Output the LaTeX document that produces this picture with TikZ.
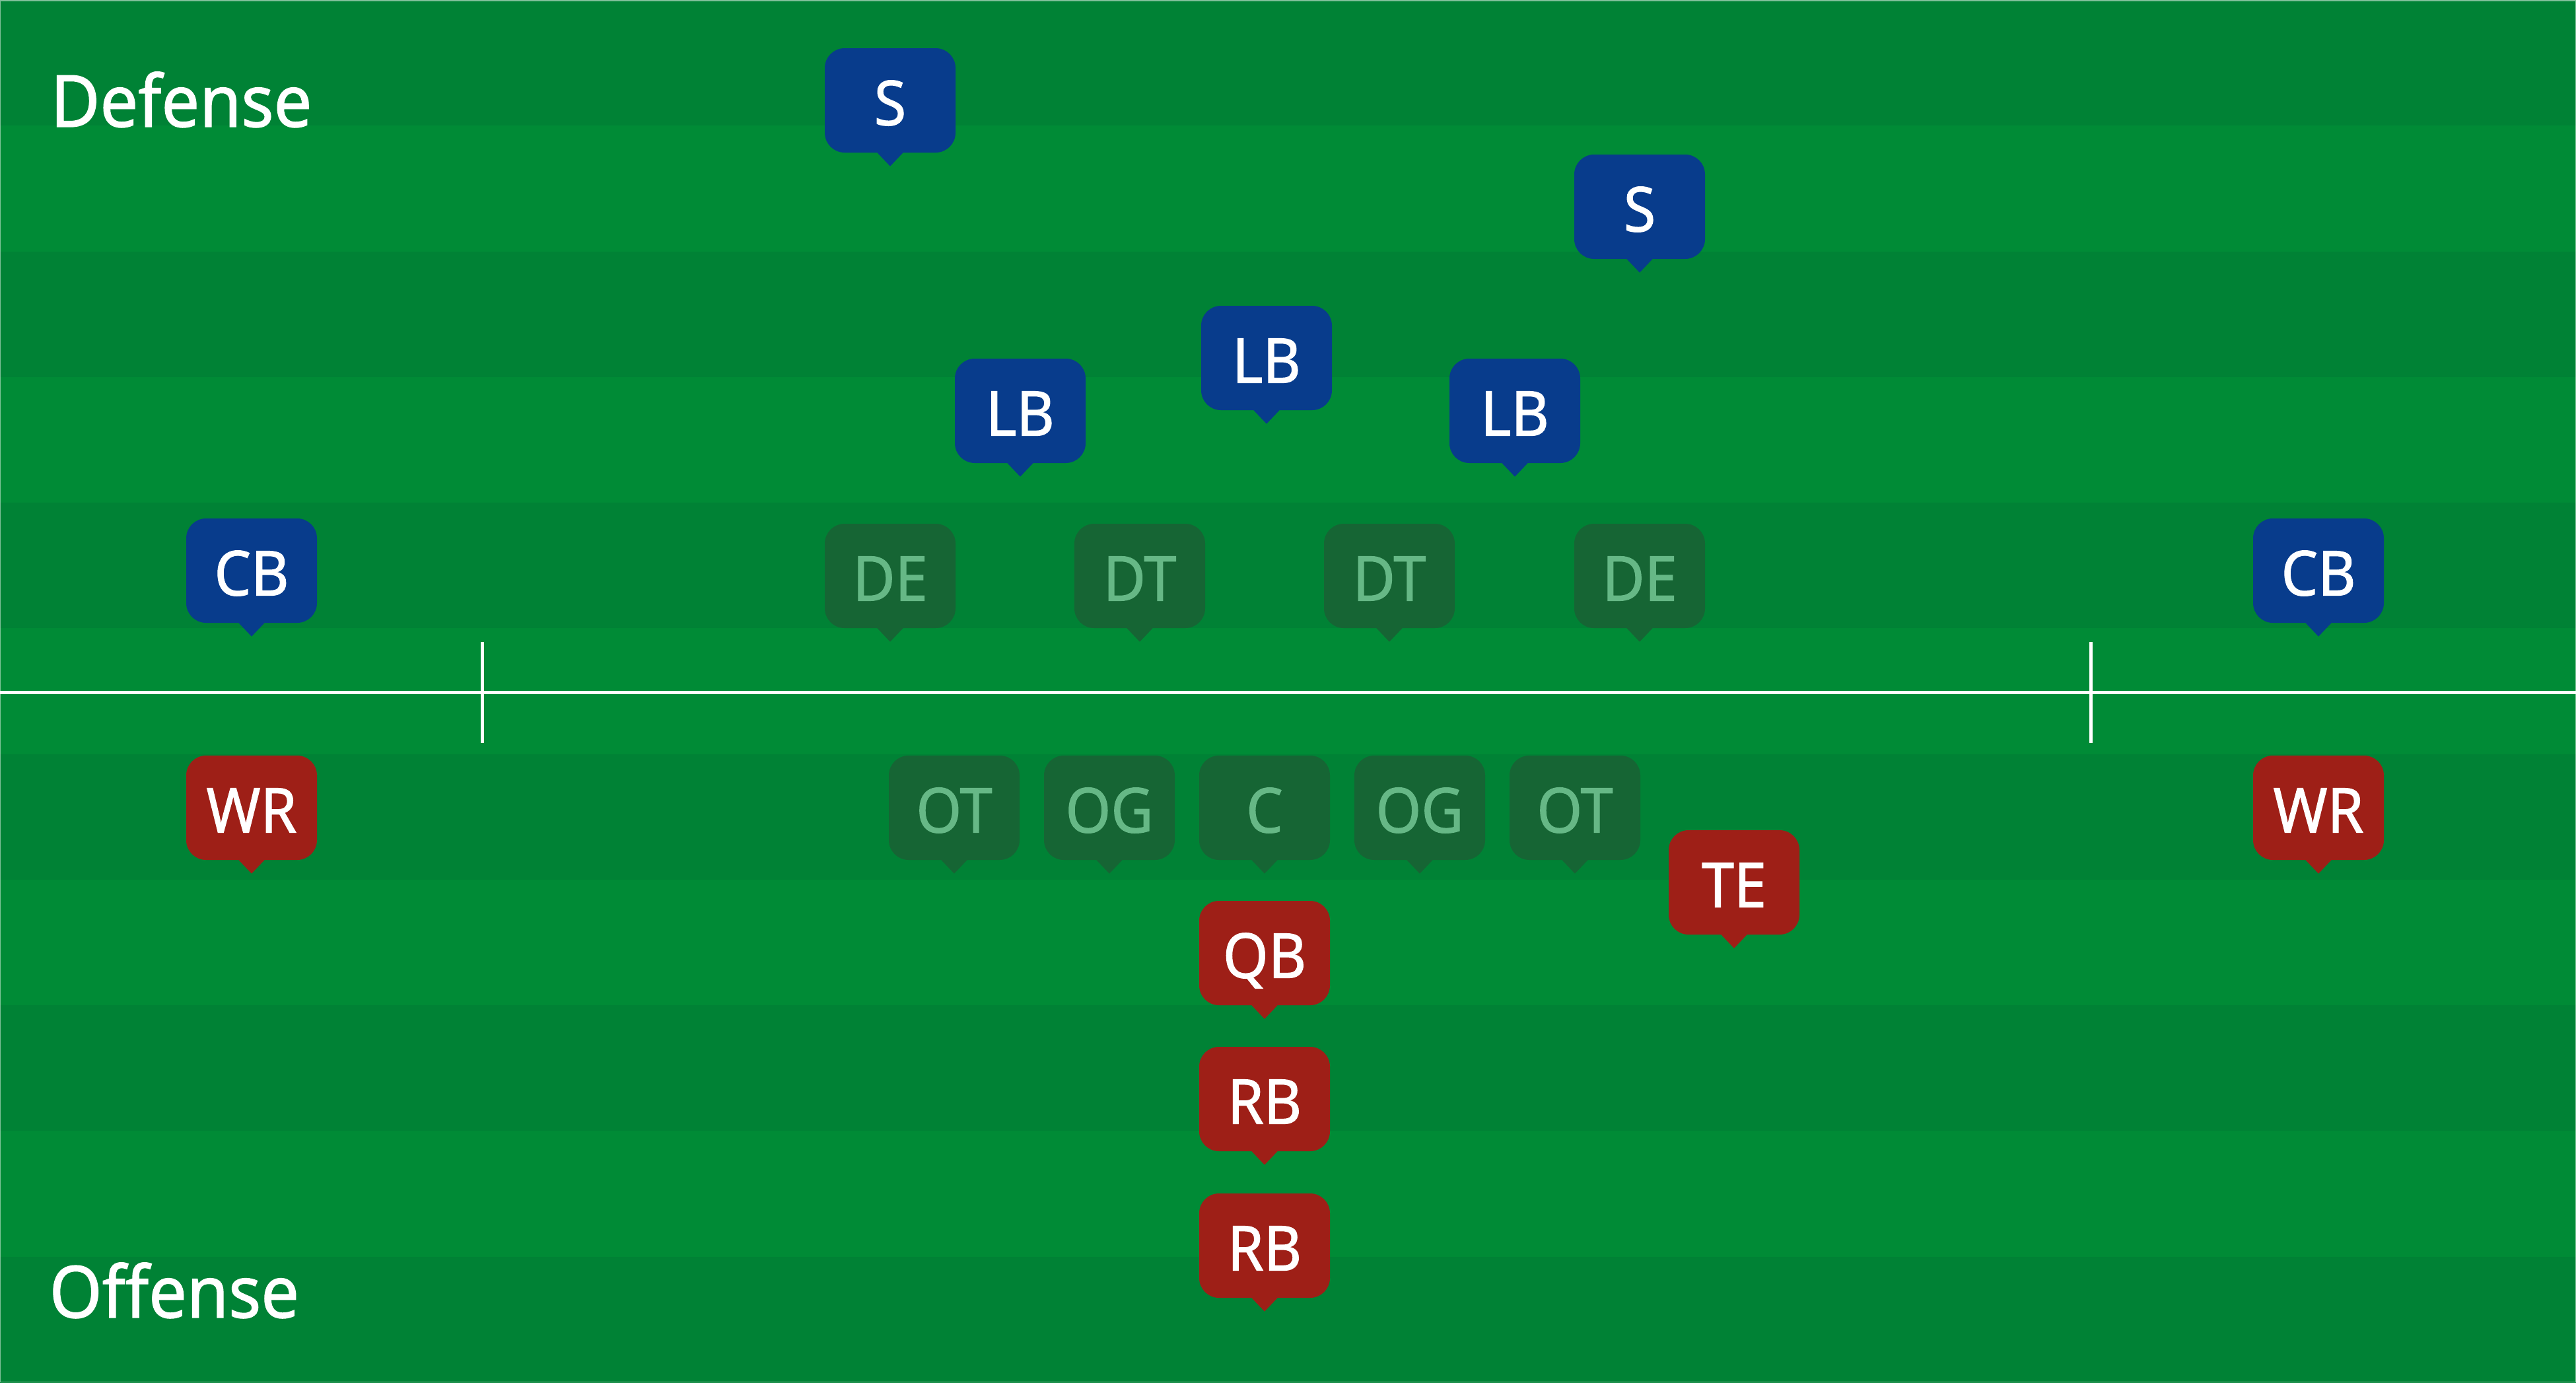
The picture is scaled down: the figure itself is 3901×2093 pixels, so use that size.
\documentclass[tikz,border=0pt]{standalone}
\usepackage{fontspec}
\setmainfont{Noto Sans}[FakeBold=1.2, FakeStretch=0.94]
\definecolor{stripedark}{HTML}{008235}
\definecolor{stripelight}{HTML}{008B36}
\definecolor{defcol}{HTML}{083C8C}
\definecolor{offcol}{HTML}{9E1F17}
\definecolor{linecol}{HTML}{166534}
\definecolor{linetext}{HTML}{66B886}
\tikzset{
  markbox/.style={rectangle, rounded corners=3mm, minimum width=19.8mm, minimum height=15.8mm, inner sep=0pt},
  marktext/.style={inner sep=0pt, text height=6.7mm, text depth=0pt, font=\fontsize{26.7}{30}\selectfont},
  sidelabel/.style={inner sep=0pt, anchor=base west, text=white, font=\fontsize{31}{36}\selectfont},
  fieldline/.style={draw=white, line width=0.5mm},
}
\newcommand{\pmark}[6]{%
  \node[markbox, fill=#5] (#1) at (#2,#3) {};
  \fill[#5] ([xshift=-2mm,yshift=0.3pt]#1.south) -- ([xshift=2mm,yshift=0.3pt]#1.south) -- ([yshift=-2mm]#1.south) -- cycle;
  \node[marktext, text=#6] (#1-t) at ([yshift=-0.4mm]#1.center) {#4};
}
\begin{document}
\begin{tikzpicture}[x=0.1mm,y=-0.1mm]
\useasboundingbox (0,0) rectangle (3901,2093);
% stripes
\foreach \i in {0,...,10}{
  \pgfmathparse{mod(\i,2)==0 ? 1 : 0}
  \ifnum\pgfmathresult=1
    \fill[stripedark] (0,{\i*190.2727}) rectangle (3901,{(\i+1)*190.2727+0.5});
  \else
    \fill[stripelight] (0,{\i*190.2727}) rectangle (3901,{(\i+1)*190.2727+0.5});
  \fi
}
\draw[white, opacity=0.5, line width=0.15mm] (0.75,0.75) rectangle (3900.25,2092.25);
% line of scrimmage
\coordinate (lsL) at (0,1048);
\coordinate (lsR) at (3901,1048);
\coordinate (t1a) at (730,972);
\coordinate (t1b) at (730,1125);
\coordinate (t2a) at (3166,972);
\coordinate (t2b) at (3166,1125);
\draw[fieldline] (lsL) -- (lsR);
\draw[fieldline] (t1a) -- (t1b);
\draw[fieldline] (t2a) -- (t2b);
% labels
\node[sidelabel] (deflabel) at (76,192) {Defense};
\node[sidelabel] (offlabel) at (74,1995) {Offense};
% defense
\pmark{s1}{1348}{152}{S}{defcol}{white}
\pmark{s2}{2483}{313}{S}{defcol}{white}
\pmark{lbm}{1918}{542}{LB}{defcol}{white}
\pmark{lbl}{1545}{622}{LB}{defcol}{white}
\pmark{lbr}{2294}{622}{LB}{defcol}{white}
\pmark{cbl}{381}{864}{CB}{defcol}{white}
\pmark{cbr}{3511}{864}{CB}{defcol}{white}
\pmark{de1}{1348}{872}{DE}{linecol}{linetext}
\pmark{dt1}{1726}{872}{DT}{linecol}{linetext}
\pmark{dt2}{2104}{872}{DT}{linecol}{linetext}
\pmark{de2}{2483}{872}{DE}{linecol}{linetext}
% offense
\pmark{wrl}{381}{1223}{WR}{offcol}{white}
\pmark{wrr}{3511}{1223}{WR}{offcol}{white}
\pmark{ot1}{1445}{1223}{OT}{linecol}{linetext}
\pmark{og1}{1680}{1223}{OG}{linecol}{linetext}
\pmark{c}{1915}{1223}{C}{linecol}{linetext}
\pmark{og2}{2150}{1223}{OG}{linecol}{linetext}
\pmark{ot2}{2385}{1223}{OT}{linecol}{linetext}
\pmark{te}{2626}{1336}{TE}{offcol}{white}
\pmark{qb}{1915}{1443}{QB}{offcol}{white}
\pmark{rb1}{1915}{1664}{RB}{offcol}{white}
\pmark{rb2}{1915}{1886}{RB}{offcol}{white}
\end{tikzpicture}
\end{document}
